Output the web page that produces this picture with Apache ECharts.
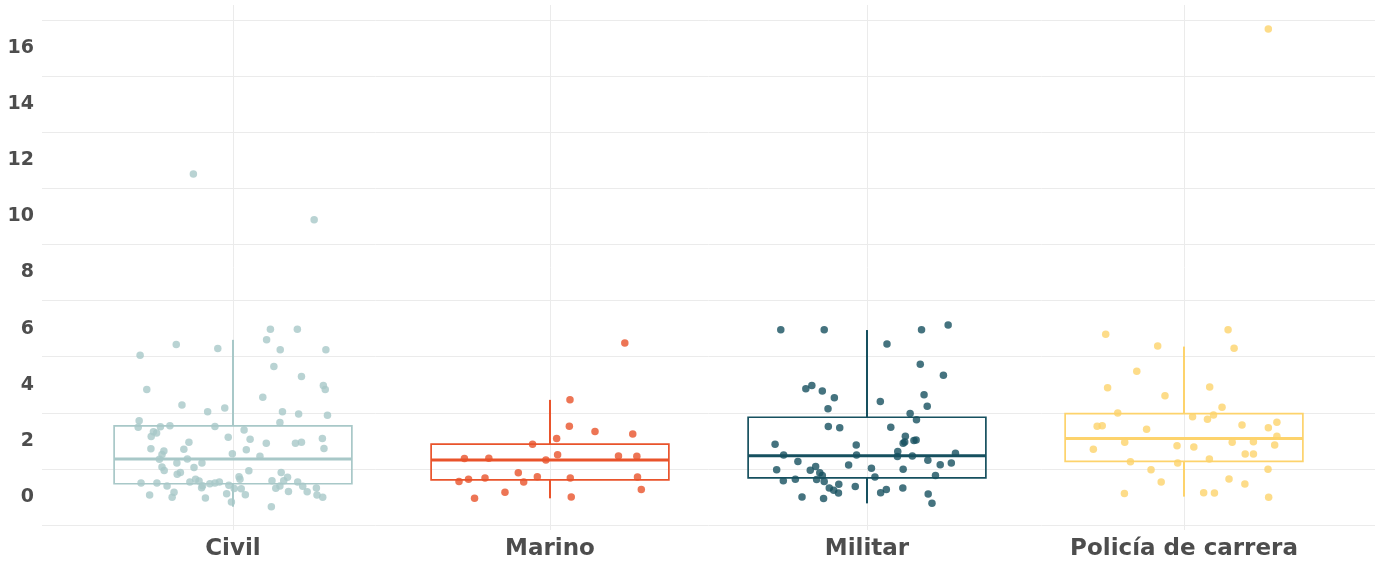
<!DOCTYPE html>
<html>
<head>
<meta charset="utf-8">
<script src="https://cdn.jsdelivr.net/npm/echarts@6.0.0/dist/echarts.min.js"></script>
<style>
  html, body { margin: 0; padding: 0; background: #fff; }
  #chart { width: 1380px; height: 561px; }
</style>
</head>
<body>
<div id="chart"></div>
<script>
const categories = ["Civil", "Marino", "Militar", "Policía de carrera"];
const yTicks = [0, 2, 4, 6, 8, 10, 12, 14, 16];
const gridValues = [-1, 1, 3, 5, 7, 9, 11, 13, 15, 17];

// [min, q1, median, q3, max]
const civilBox = [-0.35, 0.47, 1.35, 2.53, 5.60];
const marinoBox = [-0.05, 0.61, 1.32, 1.88, 3.46];
const militarBox = [-0.23, 0.68, 1.47, 2.84, 5.95];
const policiaBox = [0.01, 1.27, 2.08, 2.97, 5.36];

// points: value and horizontal jitter (in category units)
const civilValues = [5.98,5.98,5.43,5.05,5.29,5.60,5.25,5.25,4.65,4.29,
  3.83,3.97,3.83,3.55,3.28,3.04,3.17,3.04,2.96,2.91,
  2.72,2.48,2.65,2.32,2.28,2.15,2.50,2.54,2.51,2.39,
  2.13,2.06,1.72,1.64,1.51,1.34,1.70,1.95,1.35,1.21,
  1.21,1.05,1.07,0.94,0.81,0.87,1.54,1.68,1.45,1.91,
  1.91,1.95,2.08,1.73,0.93,0.87,0.70,0.72,0.63,0.50,
  0.50,0.39,0.53,0.63,0.57,0.33,0.40,0.47,0.50,0.53,
  0.42,0.30,0.29,0.58,0.31,0.39,0.58,0.53,0.38,0.18,
  0.32,0.07,-0.01,0.07,0.17,-0.01,-0.04,0.11,0.08,-0.18,
  -0.35,0.19,11.51,9.88];
const civilJitter = [0.118,0.203,-0.179,-0.293,-0.048,0.106,0.149,0.293,0.129,0.216,
  -0.272,0.285,0.291,0.094,-0.161,-0.080,-0.026,0.156,0.207,0.298,
  -0.296,-0.299,0.148,-0.251,-0.241,-0.258,-0.229,-0.199,-0.057,0.035,
  -0.015,0.054,-0.259,-0.218,-0.224,-0.232,-0.155,-0.139,-0.144,-0.177,
  -0.098,-0.123,-0.224,-0.217,-0.176,-0.166,-0.002,0.042,0.085,0.105,
  0.197,0.216,0.282,0.287,0.050,0.152,0.172,0.019,0.022,-0.290,
  -0.240,-0.208,-0.136,-0.118,-0.107,-0.099,-0.096,-0.073,-0.057,-0.043,
  -0.013,0.004,0.026,0.123,0.135,0.148,0.160,0.204,0.220,0.234,
  0.263,0.265,0.283,-0.263,-0.186,-0.192,-0.087,-0.020,0.039,-0.005,
  0.121,0.175,-0.125,0.256];

const marinoValues = [5.49,3.46,2.52,2.33,2.24,2.08,1.88,1.37,1.38,1.32,
  1.50,1.46,1.45,0.55,0.63,0.67,0.86,0.53,0.72,0.67,
  0.71,0.26,0.17,-0.05,0.00];
const marinoJitter = [0.236,0.063,0.061,0.142,0.261,0.021,-0.055,-0.270,-0.193,-0.013,
  0.024,0.216,0.274,-0.287,-0.257,-0.205,-0.100,-0.083,-0.040,0.064,
  0.276,0.288,-0.142,-0.238,0.067];

const militarValues = [5.96,5.96,5.96,6.13,5.45,4.73,4.34,3.86,3.97,3.78,
  3.54,3.14,3.40,3.64,3.23,2.97,2.75,2.51,2.47,2.48,
  1.88,1.49,1.26,1.85,1.49,2.16,1.91,1.96,2.01,2.03,
  1.62,1.44,1.46,1.56,1.31,1.15,1.21,1.14,1.02,0.99,
  0.97,0.95,1.08,0.86,0.76,0.62,0.55,0.58,0.63,0.45,
  0.32,0.24,0.14,0.37,0.71,0.76,0.15,0.26,0.32,0.10,
  -0.23,0.00,-0.06];
const militarJitter = [-0.272,-0.135,0.172,0.256,0.063,0.168,0.241,-0.193,-0.174,-0.141,
  -0.103,-0.123,0.042,0.180,0.190,0.136,0.156,-0.122,-0.086,0.075,
  -0.290,-0.263,-0.218,-0.034,-0.033,0.121,0.114,0.119,0.148,0.155,
  0.097,0.096,0.143,0.279,0.192,0.231,0.266,-0.058,0.014,0.114,
  -0.285,-0.179,-0.162,-0.149,-0.141,-0.159,-0.135,-0.264,-0.226,-0.089,
  -0.119,-0.105,-0.090,-0.037,0.025,0.216,0.043,0.061,0.113,0.193,
  0.205,-0.205,-0.137];

const policiaValues = [5.96,5.80,5.38,5.30,4.48,3.89,3.92,3.61,3.20,2.99,
  2.86,2.77,2.92,2.66,2.47,2.56,2.52,2.54,2.41,2.16,
  1.95,1.70,1.82,1.78,1.95,1.97,1.85,1.53,1.53,1.35,
  1.25,1.21,0.97,0.99,0.53,0.64,0.46,0.12,0.15,0.14,
  -0.01,16.68];
const policiaJitter = [0.139,-0.247,-0.083,0.158,-0.149,-0.241,0.081,-0.060,0.120,-0.209,
  0.027,0.074,0.093,0.293,0.266,0.183,-0.274,-0.258,-0.118,0.293,
  -0.187,-0.286,-0.022,0.031,0.152,0.219,0.286,0.193,0.219,0.080,
  -0.169,-0.020,-0.104,0.265,-0.072,0.142,0.192,-0.188,0.062,0.096,
  0.267,0.266];

const palette = ["#a8c8c8", "#e9532b", "#16505f", "#fdd36c"];
const textColor = "#4d4d4d";
const gridColor = "#ebebeb";
const fontFamily = "DejaVu Sans";

const boxes = [civilBox, marinoBox, militarBox, policiaBox];
const valueSets = [civilValues, marinoValues, militarValues, policiaValues];
const jitterSets = [civilJitter, marinoJitter, militarJitter, policiaJitter];

const chart = echarts.init(document.getElementById("chart"));

function renderBox(params, api) {
  const i = api.value(0);
  const half = api.size([0.375, 0])[0];
  const pMin = api.coord([i, api.value(1)]);
  const pQ1 = api.coord([i, api.value(2)]);
  const pMed = api.coord([i, api.value(3)]);
  const pQ3 = api.coord([i, api.value(4)]);
  const pMax = api.coord([i, api.value(5)]);
  const color = palette[i];
  return {
    type: "group",
    children: [
      { type: "line", shape: { x1: pMax[0], y1: pMax[1], x2: pQ3[0], y2: pQ3[1] },
        style: { stroke: color, lineWidth: 2 } },
      { type: "line", shape: { x1: pQ1[0], y1: pQ1[1], x2: pMin[0], y2: pMin[1] },
        style: { stroke: color, lineWidth: 2 } },
      { type: "rect", shape: { x: pQ3[0] - half, y: pQ3[1], width: half * 2, height: pQ1[1] - pQ3[1] },
        style: { fill: "none", stroke: color, lineWidth: 1.7 } },
      { type: "line", shape: { x1: pMed[0] - half, y1: pMed[1], x2: pMed[0] + half, y2: pMed[1] },
        style: { stroke: color, lineWidth: 3 } }
    ]
  };
}

const series = [
  {
    type: "line",
    data: [],
    z: 0,
    silent: true,
    markLine: {
      silent: true,
      z: 0,
      symbol: ["none", "none"],
      label: { show: false },
      lineStyle: { color: gridColor, width: 1, type: "solid" },
      data: gridValues.map((v) => ({ yAxis: v }))
        .concat(categories.map((c, i) => ({ xAxis: i })))
    }
  },
  {
    type: "custom",
    z: 5,
    renderItem: renderBox,
    encode: { x: 0, y: [1, 2, 3, 4, 5] },
    data: boxes.map((b, i) => [i].concat(b))
  }
];

valueSets.forEach((vals, i) => {
  series.push({
    name: categories[i],
    type: "scatter",
    z: 6,
    symbolSize: 7.5,
    itemStyle: { color: palette[i], opacity: 0.8 },
    data: vals.map((v, k) => [i + jitterSets[i][k], v])
  });
});

chart.setOption({
  animation: false,
  grid: { left: 42, right: 5, top: 5, height: 525 },
  xAxis: {
    type: "value",
    min: -0.6025,
    max: 3.6025,
    axisLine: { show: false },
    axisTick: { show: false },
    splitLine: { show: false },
    axisLabel: {
      customValues: [0, 1, 2, 3],
      formatter: (v) => categories[Math.round(v)],
      color: textColor,
      fontFamily: fontFamily,
      fontWeight: "bold",
      fontSize: 23,
      margin: 8
    }
  },
  yAxis: {
    type: "value",
    min: -1.18,
    max: 17.54,
    axisLine: { show: false },
    axisTick: { show: false },
    splitLine: { show: false },
    axisLabel: {
      customValues: yTicks,
      color: textColor,
      fontFamily: fontFamily,
      fontWeight: "bold",
      fontSize: 19,
      margin: 8
    }
  },
  series: series
});
</script>
</body>
</html>
